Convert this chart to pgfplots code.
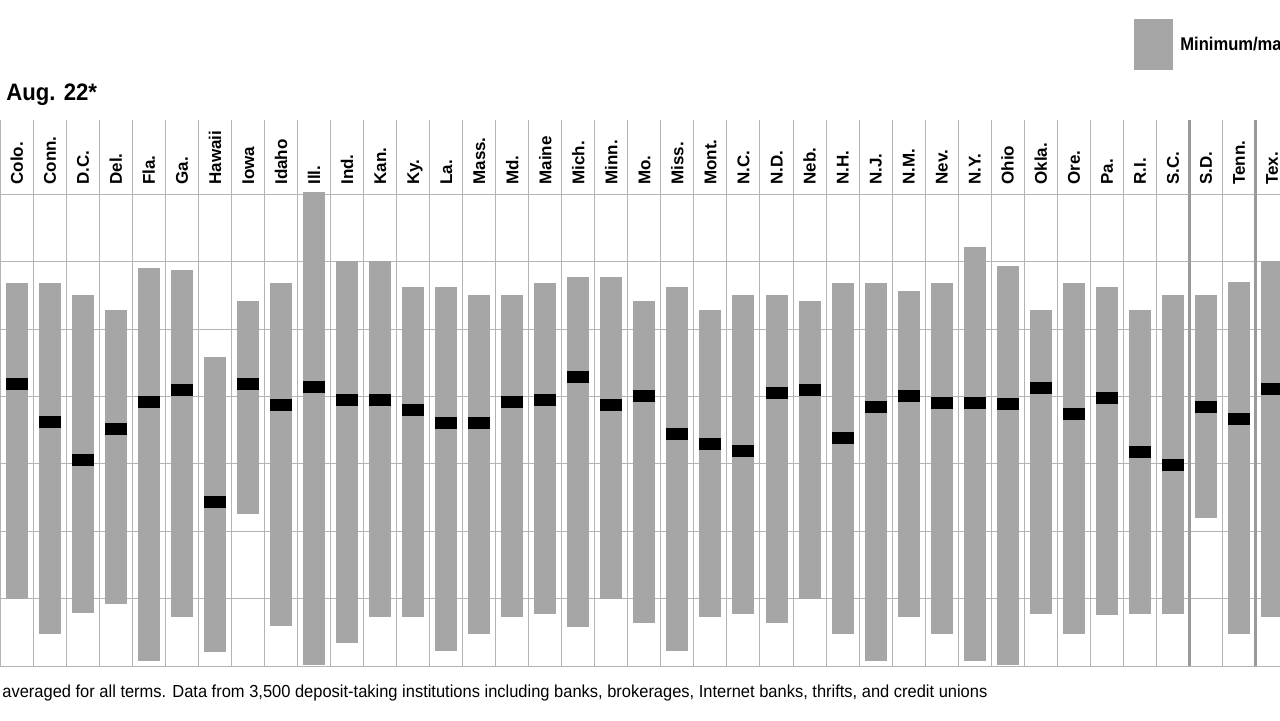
\documentclass[border=0pt]{standalone}
\usepackage{graphicx}
\usepackage{pgfplots}
\usepackage{pgfplotstable}
\pgfplotsset{compat=1.18}
\usepackage{fontspec}
\setmainfont{Liberation Sans}
\definecolor{barg}{HTML}{A6A6A6}
\definecolor{gridc}{HTML}{B4B4B4}
\definecolor{thickc}{HTML}{9A9A9A}

\pgfplotstableread{
i top bot mean
0 5.68 0.99 4.19
1 5.68 0.48 3.62
2 5.51 0.79 3.06
3 5.28 0.92 3.52
4 5.90 0.08 3.92
5 5.88 0.73 4.09
6 4.58 0.21 2.44
7 5.42 2.25 4.18
8 5.68 0.59 3.87
9 7.03 0.02 4.14
10 6.01 0.34 3.94
11 6.01 0.73 3.95
12 5.62 0.73 3.80
13 5.62 0.22 3.60
14 5.51 0.48 3.61
15 5.51 0.73 3.92
16 5.68 0.78 3.95
17 5.77 0.58 4.29
18 5.77 1.00 3.88
19 5.42 0.64 4.00
20 5.62 0.22 3.45
21 5.28 0.73 3.29
22 5.51 0.78 3.19
23 5.51 0.64 4.05
24 5.42 0.99 4.09
25 5.68 0.48 3.39
26 5.68 0.08 3.84
27 5.57 0.73 4.00
28 5.68 0.48 3.90
29 6.21 0.08 3.90
30 5.94 0.02 3.89
31 5.28 0.78 4.12
32 5.68 0.48 3.74
33 5.62 0.76 3.98
34 5.28 0.78 3.18
35 5.51 0.78 2.98
36 5.51 2.19 3.84
37 5.70 0.48 3.67
38 6.01 0.73 4.11
}\data

\begin{document}
\begin{tikzpicture}
\begin{axis}[
  at={(0pt,26.95pt)}, anchor=south west,
  scale only axis, width=640pt, height=273.05pt,
  xmin=-0.509, xmax=38.244, ymin=0, ymax=8.10,
  axis line style={draw=none},
  xtick={-0.5,0.5,...,37.5}, ytick={0,1,...,7},
  xticklabels={}, yticklabels={},
  major tick length=0pt, tick style={draw=none},
  xmajorgrids, ymajorgrids,
  major grid style={draw=gridc, line width=0.5pt},
  extra x ticks={35.5,37.5}, extra x tick labels={},
  extra x tick style={grid=major, major grid style={draw=thickc, line width=1.3pt}},
  clip=true,
]
\addplot[draw=none, mark=none, forget plot,
  error bars/.cd, y dir=both, y explicit, error mark=none,
  error bar style={draw=barg, line width=11pt, line cap=butt}]
  table[x=i, y expr={(\thisrow{top}+\thisrow{bot})/2}, y error expr={(\thisrow{top}-\thisrow{bot})/2}] \data;
\addplot[only marks, mark=-, mark size=5.5pt, mark options={draw=black, line width=6pt, line cap=butt}]
  table[x=i, y=mean] \data;
\end{axis}

\begin{axis}[
  at={(0pt,267.5pt)}, anchor=south west,
  scale only axis, width=640pt, height=20pt,
  xmin=-0.509, xmax=38.244, ymin=0, ymax=1,
  axis line style={draw=none},
  ytick=\empty,
  xtick={0.182,1.182,...,38.182},
  xticklabels={Colo.,Conn.,D.C.,Del.,Fla.,Ga.,Hawaii,Iowa,Idaho,Ill.,Ind.,Kan.,Ky.,La.,Mass.,Md.,Maine,Mich.,Minn.,Mo.,Miss.,Mont.,N.C.,N.D.,Neb.,N.H.,N.J.,N.M.,Nev.,N.Y.,Ohio,Okla.,Ore.,Pa.,R.I.,S.C.,S.D.,Tenn.,Tex.},
  major tick length=0pt, tick style={draw=none},
  xticklabel style={font=\bfseries\fontsize{8.5}{10}\selectfont, rotate=90, anchor=base west, inner sep=0pt},
]
\end{axis}

\node[anchor=base west, inner sep=0pt, font=\bfseries\fontsize{11.9}{14}\selectfont] at (3pt,310pt) {\scalebox{0.93}[1]{Aug. 22*}};
\fill[barg] (567pt,325pt) rectangle (586.5pt,350.5pt);
\node[anchor=base west, inner sep=0pt, font=\bfseries\fontsize{9.2}{11}\selectfont] at (590pt,334.6pt) {\scalebox{0.9}[1]{Minimum/maximum}};
\node[anchor=base west, inner sep=0pt, font=\fontsize{8.7}{10}\selectfont] at (1pt,11.5pt) {\resizebox{492.5pt}{\height}{averaged for all terms. Data from 3,500 deposit-taking institutions including banks, brokerages, Internet banks, thrifts, and credit unions}};

\pgfresetboundingbox
\path[use as bounding box] (0pt,0pt) rectangle (640pt,360pt);
\end{tikzpicture}
\end{document}
